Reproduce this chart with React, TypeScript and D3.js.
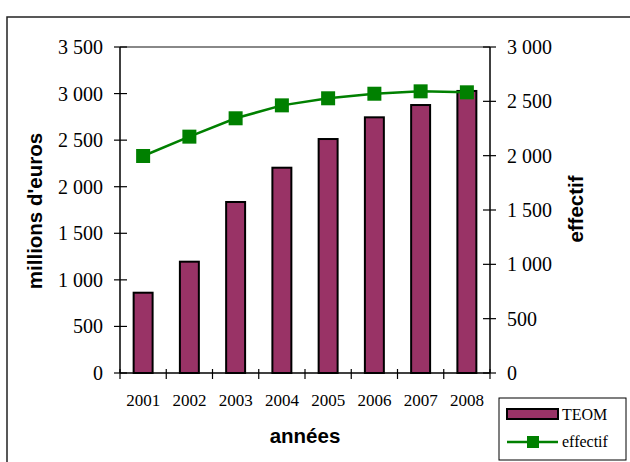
import React from "react";
import * as d3 from "d3";

const years = ["2001", "2002", "2003", "2004", "2005", "2006", "2007", "2008"];
const teom = [862, 1195, 1836, 2204, 2512, 2745, 2877, 3028];
const effectif = [1997, 2175, 2344, 2463, 2528, 2570, 2592, 2583];
const leftTicks = [0, 500, 1000, 1500, 2000, 2500, 3000, 3500];
const rightTicks = [0, 500, 1000, 1500, 2000, 2500, 3000];

const fmt = (v: number) => {
  const s = String(v);
  return s.length > 3 ? s.slice(0, s.length - 3) + "\u00a0" + s.slice(-3) : s;
};

export default function App() {
  const W = 630, H = 462;
  const L = 120, R = 490, T = 47, B = 373;
  const x = d3.scaleBand<string>().domain(years).range([L, R]).paddingInner(0).paddingOuter(0);
  const yL = d3.scaleLinear().domain([0, 3500]).range([B, T]);
  const yR = d3.scaleLinear().domain([0, 3000]).range([B, T]);
  const bw = x.bandwidth() * 0.41;
  const line = d3.line<number>().x((_, i) => x(years[i])! + x.bandwidth() / 2).y((d) => yR(d));
  const serif = "'Liberation Serif', 'Times New Roman', serif";
  const sans = "'Liberation Sans', Arial, sans-serif";
  const ms = 14;
  return (
    <svg width={W} height={H} style={{ position: "absolute", left: 0, top: 0, background: "#fff" }}>
      <rect x={7} y={17} width={640} height={460} fill="none" stroke="#222" strokeWidth={1.5} />
      {/* top gridline */}
      <line x1={L} x2={R} y1={T} y2={T} stroke="#888" strokeWidth={2} />
      {/* bars */}
      {teom.map((v, i) => (
        <rect key={i} x={x(years[i])! + (x.bandwidth() - bw) / 2} y={yL(v)} width={bw} height={B - yL(v)}
          fill="#993366" stroke="#000" strokeWidth={2} />
      ))}
      {/* axes */}
      <line x1={L} x2={L} y1={T} y2={B} stroke="#000" strokeWidth={1.5} />
      <line x1={R} x2={R} y1={T} y2={B} stroke="#000" strokeWidth={1.5} />
      <line x1={L} x2={R} y1={B} y2={B} stroke="#000" strokeWidth={1.5} />
      {leftTicks.map((t) => (
        <g key={"l" + t}>
          <line x1={L - 6} x2={L + 7} y1={yL(t)} y2={yL(t)} stroke="#000" strokeWidth={1.2} />
          <text x={103} y={yL(t)} dy="0.35em" textAnchor="end" fontFamily={serif} fontSize={20}>{fmt(t)}</text>
        </g>
      ))}
      {rightTicks.map((t) => (
        <g key={"r" + t}>
          <line x1={R - 7} x2={R + 6} y1={yR(t)} y2={yR(t)} stroke="#000" strokeWidth={1.2} />
          <text x={507} y={yR(t)} dy="0.35em" textAnchor="start" fontFamily={serif} fontSize={20}>{fmt(t)}</text>
        </g>
      ))}
      {d3.range(years.length + 1).map((i) => (
        <line key={"x" + i} x1={L + i * x.bandwidth()} x2={L + i * x.bandwidth()} y1={B - 4} y2={B + 6} stroke="#000" strokeWidth={1.2} />
      ))}
      {years.map((yr) => (
        <text key={yr} x={x(yr)! + x.bandwidth() / 2} y={406} textAnchor="middle" fontFamily={serif} fontSize={17}>{yr}</text>
      ))}
      {/* line */}
      <path d={line(effectif) || ""} fill="none" stroke="#008000" strokeWidth={2.5} />
      {effectif.map((v, i) => (
        <rect key={"m" + i} x={x(years[i])! + x.bandwidth() / 2 - ms / 2} y={yR(v) - ms / 2} width={ms} height={ms} fill="#008000" />
      ))}
      {/* titles */}
      <text transform="translate(42,211) rotate(-90)" textAnchor="middle" fontFamily={sans} fontWeight="bold" fontSize={20.5}>millions d'euros</text>
      <text transform="translate(583,209) rotate(-90)" textAnchor="middle" fontFamily={sans} fontWeight="bold" fontSize={20.5}>effectif</text>
      <text x={305} y={443} textAnchor="middle" fontFamily={sans} fontWeight="bold" fontSize={20.5}>années</text>
      {/* legend */}
      <rect x={499} y={398} width={127} height={62} fill="#fff" stroke="#000" strokeWidth={1} />
      <rect x={507} y={409} width={51} height={10} fill="#993366" stroke="#000" strokeWidth={2} />
      <text x={562} y={420} fontFamily={serif} fontSize={16}>TEOM</text>
      <line x1={507} x2={558} y1={442} y2={442} stroke="#008000" strokeWidth={2.5} />
      <rect x={527} y={436} width={12} height={12} fill="#008000" />
      <text x={562} y={447} fontFamily={serif} fontSize={16}>effectif</text>
    </svg>
  );
}
